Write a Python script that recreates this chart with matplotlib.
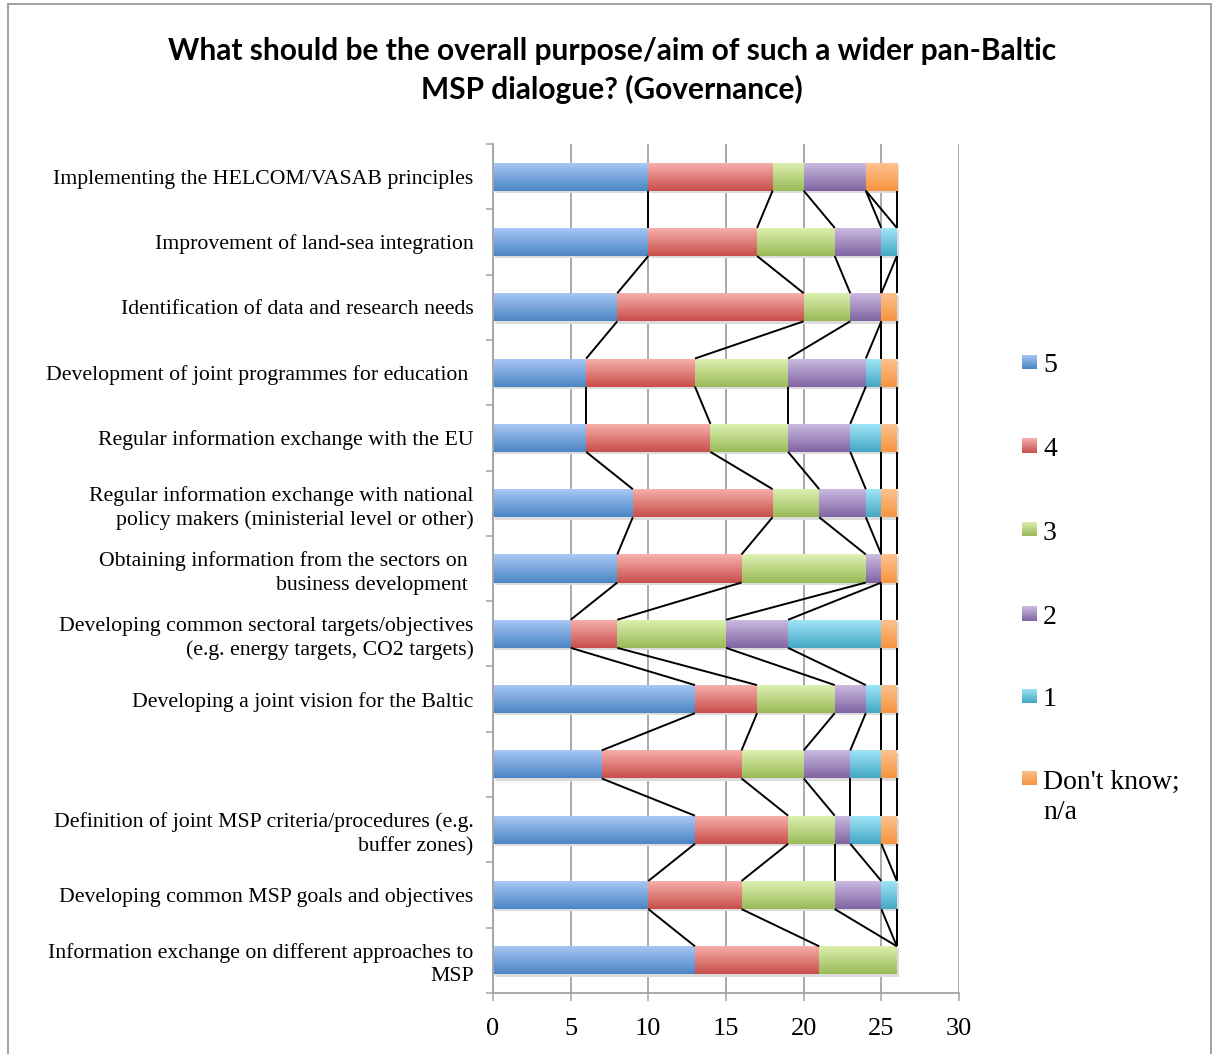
import numpy as np
import matplotlib
matplotlib.use("Agg")
import matplotlib.pyplot as plt
from matplotlib.colors import LinearSegmentedColormap
from matplotlib.patches import Rectangle

# Survey answers: number of respondents per rating for each purpose
categories = [
    "Implementing the HELCOM/VASAB principles",
    "Improvement of land-sea integration",
    "Identification of data and research needs",
    "Development of joint programmes for education ",
    "Regular information exchange with the EU",
    "Regular information exchange with national\npolicy makers (ministerial level or other)",
    "Obtaining information from the sectors on \nbusiness development ",
    "Developing common sectoral targets/objectives\n(e.g. energy targets, CO2 targets)",
    "Developing a joint vision for the Baltic",
    "",
    "Definition of joint MSP criteria/procedures (e.g.\nbuffer zones)",
    "Developing common MSP goals and objectives",
    "Information exchange on different approaches to\nMSP",
]
series_names = ["5", "4", "3", "2", "1", "Don't know;\nn/a"]
score_5 = [10, 10, 8, 6, 6, 9, 8, 5, 13, 7, 13, 10, 13]
score_4 = [8, 7, 12, 7, 8, 9, 8, 3, 4, 9, 6, 6, 8]
score_3 = [2, 5, 3, 6, 5, 3, 8, 7, 5, 4, 3, 6, 5]
score_2 = [4, 3, 2, 5, 4, 3, 1, 4, 2, 3, 1, 3, 0]
score_1 = [0, 1, 0, 1, 2, 1, 0, 6, 1, 2, 2, 1, 0]
dont_know = [2, 0, 1, 1, 1, 1, 1, 1, 1, 1, 1, 0, 0]
x_ticks = [0, 5, 10, 15, 20, 25, 30]

# (light top, dark bottom) gradient for each series
shades = [
    ("#abc9f6", "#4a85c4"),
    ("#f8b2ae", "#c84e4a"),
    ("#def2b3", "#9aba57"),
    ("#cdbce2", "#8065a2"),
    ("#a3e6f9", "#43a8c4"),
    ("#fdc391", "#f79440"),
]

values = np.array([score_5, score_4, score_3, score_2, score_1, dont_know], dtype=float)
n_cat = len(categories)
ypos = np.arange(n_cat)
bar_h = 0.43

serif = ["Liberation Serif", "DejaVu Serif"]
plt.rcParams["font.family"] = serif

W, H = 1214, 1054
fig = plt.figure(figsize=(W / 100, H / 100), dpi=100)
ax = fig.add_axes([493 / W, 1 - 993 / H, (959 - 493) / W, (993 - 144) / H])

grid_col = "#a3a3a3"
totals = values.sum(axis=0)

# soft drop shadow behind each stacked bar
ax.barh(ypos + 0.035, totals, left=0.12, height=bar_h, color="#dcdcdc",
        edgecolor="none", zorder=1.5)

grad = np.linspace(0, 1, 64).reshape(-1, 1)
lefts = np.zeros(n_cat)
cmaps = []
for k, name in enumerate(series_names):
    cmap = LinearSegmentedColormap.from_list(f"s{k}", list(shades[k]))
    cmaps.append(cmap)
    bars = ax.barh(ypos, values[k], left=lefts, height=bar_h,
                   color=shades[k][1], edgecolor="none", zorder=2, label=name)
    for patch, w, l, y in zip(bars.patches, values[k], lefts, ypos):
        if w <= 0:
            continue
        im = ax.imshow(grad, cmap=cmap, aspect="auto", origin="upper",
                       extent=(l, l + w, y + bar_h / 2, y - bar_h / 2),
                       zorder=2.5, interpolation="bilinear")
        im.set_clip_path(patch)
    lefts = lefts + values[k]

# series lines joining the cumulative ends of neighbouring bars
cum = np.cumsum(values, axis=0)
for k in range(len(series_names)):
    for i in range(n_cat - 1):
        ax.plot([cum[k, i], cum[k, i + 1]],
                [ypos[i] + bar_h / 2, ypos[i + 1] - bar_h / 2],
                color="black", lw=1.4, zorder=3, solid_capstyle="butt")

ax.set_xlim(0, 30)
ax.set_ylim(n_cat - 0.5, -0.5)
ax.set_xticks(x_ticks)
ax.set_xticklabels([str(t) for t in x_ticks], fontsize=19)
ax.set_yticks(ypos)
ax.set_yticklabels(categories, fontsize=15.7, linespacing=1.3)
ax.set_yticks(np.arange(-0.5, n_cat, 1.0), minor=True)
ax.tick_params(axis="y", which="major", length=0, pad=14)
ax.tick_params(axis="y", which="minor", length=5, width=1.1, color=grid_col, direction="out")
ax.tick_params(axis="x", which="major", length=6, width=1.1, color=grid_col, pad=12)

ax.grid(axis="x", color=grid_col, lw=1.3, zorder=1)
ax.set_axisbelow(True)
for side in ("top", "right"):
    ax.spines[side].set_visible(False)
for side in ("left", "bottom"):
    ax.spines[side].set_color(grid_col)
    ax.spines[side].set_linewidth(1.3)

# title
title_font = ["Lato", "DejaVu Sans"]
fig.text(612 / W, 1 - 51 / H, "What should be the overall purpose/aim of such a wider pan-Baltic",
         ha="center", va="center", fontsize=21.5, fontweight="bold", family=title_font)
fig.text(612 / W, 1 - 89 / H, "MSP dialogue? (Governance)",
         ha="center", va="center", fontsize=21.5, fontweight="bold", family=title_font)

# legend with gradient swatches
leg_y = [362, 446, 529, 613, 696, 778]
sq = 15
for k, name in enumerate(series_names):
    yc = leg_y[k]
    sw = fig.add_axes([1022 / W, 1 - (yc + sq / 2) / H, sq / W, sq / H])
    sw.imshow(grad, cmap=cmaps[k], aspect="auto", interpolation="bilinear")
    sw.set_axis_off()
    if "\n" in name:
        fig.text(1043 / W, 1 - (yc - 8) / H, name, ha="left", va="top",
                 fontsize=20, linespacing=1.25)
    else:
        fig.text(1043 / W, 1 - (yc + 4) / H, name, ha="left", va="center", fontsize=20)

# outer frame
fig.patches.append(Rectangle((8 / W, -0.05), (1211 - 8) / W, 1.05 - 4 / H,
                             transform=fig.transFigure, fill=False,
                             edgecolor="#9a9a9a", lw=1.3))

fig.savefig("out.png", dpi=100)
